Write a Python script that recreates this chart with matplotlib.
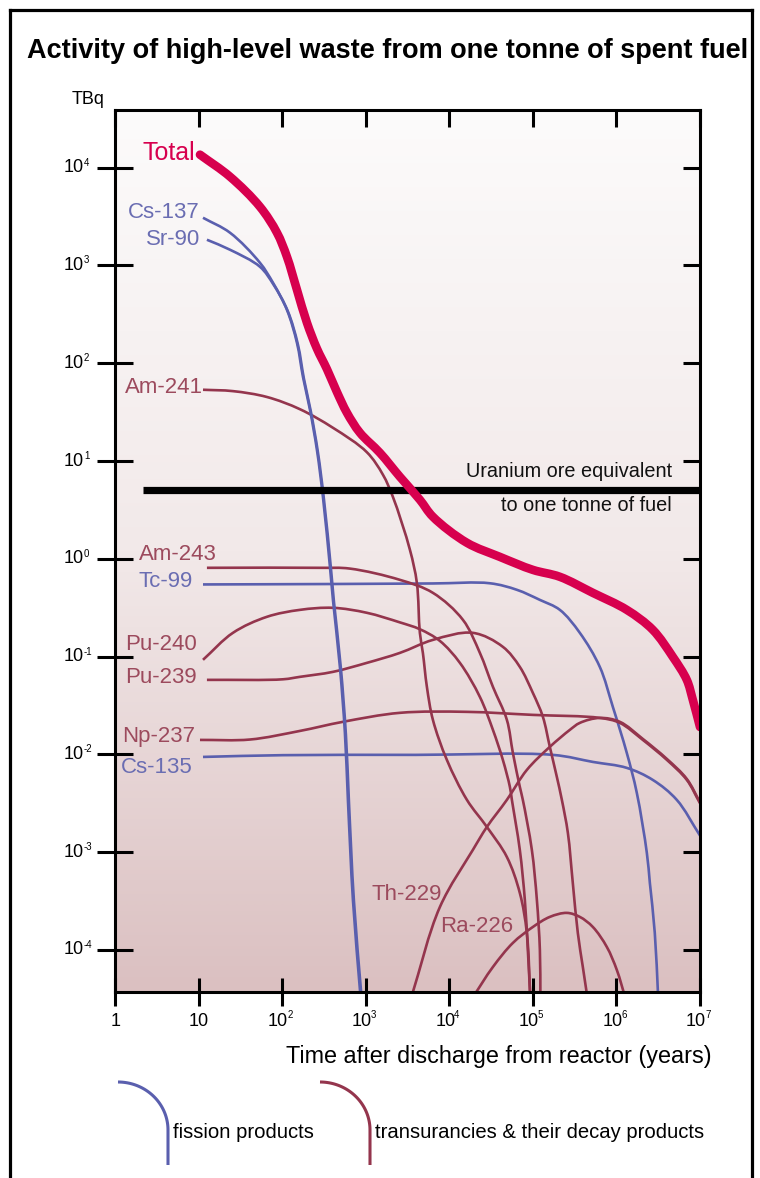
import numpy as np
import matplotlib
matplotlib.use("Agg")
import matplotlib.pyplot as plt
from matplotlib.colors import LinearSegmentedColormap
from matplotlib.path import Path
from matplotlib.patches import PathPatch

plt.rcParams['font.family'] = ['Liberation Sans', 'DejaVu Sans']

# ---------------- data (log10 of years, log10 of TBq) ----------------
total_lt = [1.017, 1.376, 1.734, 1.938, 2.057, 2.177, 2.297, 2.416, 2.536, 2.656, 2.775, 2.931,
            3.170, 3.409, 3.648, 3.804, 4.211, 4.605, 5.0, 5.323, 5.718, 6.124, 6.435, 6.675,
            6.842, 6.914, 7.0]
total_la = [4.133, 3.908, 3.601, 3.335, 3.090, 2.752, 2.414, 2.150, 1.940, 1.705, 1.494, 1.289,
            1.084, 0.839, 0.604, 0.430, 0.164, 0.020, -0.113, -0.184, -0.348, -0.522, -0.726,
            -1.003, -1.238, -1.442, -1.72]

cs137_lt = [1.053, 1.376, 1.734, 1.890, 2.057, 2.177, 2.249, 2.333, 2.416, 2.488, 2.572, 2.608,
            2.691, 2.751, 2.787, 2.847, 2.94]
cs137_la = [3.488, 3.335, 3.028, 2.824, 2.547, 2.210, 1.862, 1.524, 1.115, 0.634, -0.082, -0.420,
            -1.105, -1.780, -2.465, -3.488, -4.5]

sr90_lt = [1.100, 1.376, 1.734, 1.900, 2.069, 2.189, 2.261, 2.345, 2.428, 2.500, 2.584, 2.620,
           2.703, 2.763, 2.799, 2.859, 2.952]
sr90_la = [3.263, 3.161, 2.987, 2.800, 2.530, 2.190, 1.840, 1.500, 1.090, 0.610, -0.100, -0.440,
           -1.120, -1.800, -2.480, -3.500, -4.5]

am241_lt = [1.053, 1.411, 1.818, 2.213, 2.608, 3.014, 3.206, 3.325, 3.529, 3.612, 3.648, 3.684,
            3.732, 3.804, 3.971, 4.211, 4.450, 4.689, 4.844, 4.928, 4.97]
am241_la = [1.729, 1.715, 1.655, 1.530, 1.340, 1.090, 0.860, 0.634, 0.092, -0.246, -0.757, -0.962,
            -1.309, -1.647, -2.056, -2.465, -2.742, -3.049, -3.417, -3.826, -4.5]

am243_lt = [1.100, 2.452, 2.811, 3.409, 3.804, 4.163, 4.366, 4.522, 4.689, 4.761, 4.844, 4.880,
            4.988, 5.048, 5.084, 5.09]
am243_la = [-0.092, -0.092, -0.100, -0.215, -0.348, -0.624, -0.962, -1.309, -1.647, -1.985,
            -2.332, -2.465, -2.977, -3.488, -4.0, -4.5]

tc99_lt = [1.053, 2.500, 3.800, 4.486, 4.809, 5.084, 5.323, 5.562, 5.801, 5.957, 6.124, 6.244,
           6.364, 6.400, 6.459, 6.50]
tc99_la = [-0.262, -0.258, -0.252, -0.250, -0.317, -0.420, -0.522, -0.757, -1.105, -1.514,
           -1.985, -2.394, -3.008, -3.315, -3.826, -4.5]

pu240_lt = [1.053, 1.411, 1.818, 2.213, 2.608, 3.014, 3.409, 3.648, 3.888, 4.127, 4.366, 4.522,
            4.641, 4.725, 4.749, 4.844, 4.904, 4.940, 4.97]
pu240_la = [-1.033, -0.757, -0.593, -0.522, -0.501, -0.552, -0.650, -0.720, -0.840, -1.064,
            -1.412, -1.749, -2.056, -2.332, -2.465, -2.977, -3.488, -4.0, -4.5]

pu239_lt = [1.100, 2.010, 2.213, 2.608, 3.014, 3.409, 3.804, 4.282, 4.641, 4.844, 5.0, 5.120,
            5.203, 5.287, 5.347, 5.419, 5.478, 5.538, 5.598, 5.655]
pu239_la = [-1.238, -1.232, -1.207, -1.156, -1.064, -0.962, -0.829, -0.757, -0.900, -1.105,
            -1.371, -1.616, -1.923, -2.230, -2.465, -2.803, -3.315, -3.826, -4.174, -4.5]

np237_lt = [1.017, 1.615, 2.213, 2.727, 3.409, 4.211, 5.0, 5.801, 6.041, 6.316, 6.603, 6.842, 7.0]
np237_la = [-1.852, -1.848, -1.760, -1.667, -1.575, -1.565, -1.596, -1.627, -1.678, -1.852,
            -2.056, -2.261, -2.50]

cs135_lt = [1.053, 2.010, 3.600, 5.239, 5.718, 6.124, 6.435, 6.722, 7.0]
cs135_la = [-2.026, -2.008, -2.005, -2.005, -2.077, -2.138, -2.261, -2.465, -2.83]

th229_lt = [3.54, 3.888, 4.282, 4.450, 4.689, 4.928, 5.203, 5.443, 5.562, 5.801, 6.041, 6.316,
            6.603, 6.842, 7.0]
th229_la = [-4.5, -3.560, -2.977, -2.742, -2.465, -2.159, -1.923, -1.749, -1.678, -1.627, -1.667,
            -1.842, -2.046, -2.251, -2.49]

ra226_lt = [4.27, 4.522, 4.761, 5.0, 5.203, 5.407, 5.562, 5.718, 5.885, 6.005, 6.11]
ra226_la = [-4.5, -4.174, -3.928, -3.765, -3.662, -3.621, -3.662, -3.765, -3.969, -4.205, -4.5]

uranium_ore_level = 5.1          # TBq
uranium_ore_span = [2.16, 1.0e7]  # years

x_tick_exps = [0, 1, 2, 3, 4, 5, 6, 7]
y_tick_exps = [4, 3, 2, 1, 0, -1, -2, -3, -4]

BLUE = '#5a5fae'
MAROON = '#94354d'
CRIMSON = '#d7004e'
BLUE_TXT = '#6a6db2'
MAROON_TXT = '#9c4a5d'

# ---------------- figure ----------------
W, H = 760, 1178
fig = plt.figure(figsize=(W / 100, H / 100), dpi=100)
fig.patch.set_facecolor('white')

ax = fig.add_axes([115 / W, (H - 992) / H, 585 / W, 882 / H])
ax.set_xscale('log')
ax.set_yscale('log')
ax.set_xlim(1, 1e7)
ax.set_ylim(10 ** -4.43, 10 ** 4.59)

# background gradient
cmap = LinearSegmentedColormap.from_list('bg', ['#dbc0c1', '#f2e9e9', '#fcfbfb'])
grad = np.linspace(0, 1, 256).reshape(-1, 1)
ax.imshow(grad, extent=[0, 1, 0, 1], transform=ax.transAxes, aspect='auto',
          cmap=cmap, origin='lower', zorder=0, interpolation='bilinear')

SX, SY = 83.6, 97.75   # relative on-screen size of one decade, for curve parametrisation


def smooth_path(lt, la):
    """Centripetal Catmull-Rom through the read points, as cubic Bezier segments."""
    p = np.column_stack([np.array(lt) * SX, np.array(la) * SY])
    ext = np.vstack([2 * p[0] - p[1], p, 2 * p[-1] - p[-2]])
    verts = [p[0]]
    codes = [Path.MOVETO]
    for i in range(1, len(ext) - 2):
        p0, p1, p2, p3 = ext[i - 1], ext[i], ext[i + 1], ext[i + 2]
        d01 = max(np.linalg.norm(p1 - p0) ** 0.5, 1e-6)
        d12 = max(np.linalg.norm(p2 - p1) ** 0.5, 1e-6)
        d23 = max(np.linalg.norm(p3 - p2) ** 0.5, 1e-6)
        t0, t1 = 0.0, d01
        t2, t3 = t1 + d12, t1 + d12 + d23
        m1 = (p1 - p0) / (t1 - t0) - (p2 - p0) / (t2 - t0) + (p2 - p1) / (t2 - t1)
        m2 = (p2 - p1) / (t2 - t1) - (p3 - p1) / (t3 - t1) + (p3 - p2) / (t3 - t2)
        m1 *= (t2 - t1)
        m2 *= (t2 - t1)
        verts += [p1 + m1 / 3, p2 - m2 / 3, p2]
        codes += [Path.CURVE4] * 3
    v = np.array(verts)
    v = 10 ** np.column_stack([v[:, 0] / SX, v[:, 1] / SY])
    return Path(v, codes)


def draw(lt, la, color, lw, z=3, cap='butt'):
    patch = PathPatch(smooth_path(lt, la), facecolor='none', edgecolor=color, lw=lw,
                      capstyle=cap, joinstyle='round', zorder=z)
    ax.add_patch(patch)


thin = 1.9
draw(tc99_lt, tc99_la, BLUE, thin)
draw(cs135_lt, cs135_la, BLUE, thin)
for lt, la in [(am241_lt, am241_la), (am243_lt, am243_la), (pu240_lt, pu240_la),
               (pu239_lt, pu239_la), (np237_lt, np237_la), (th229_lt, th229_la),
               (ra226_lt, ra226_la)]:
    draw(lt, la, MAROON, thin)
draw(sr90_lt, sr90_la, BLUE, thin)
draw(cs137_lt, cs137_la, BLUE, thin)
ax.plot(uranium_ore_span, [uranium_ore_level] * 2, color='black', lw=5.2,
        solid_capstyle='butt', zorder=4)
draw(total_lt, total_la, CRIMSON, 6.2, z=5, cap='round')

# curve labels (right edge, vertical centre) in log units
labels = [
    ('Total', 0.957, 4.153, CRIMSON, 18),
    ('Cs-137', 1.017, 3.540, BLUE_TXT, 16),
    ('Sr-90', 1.017, 3.263, BLUE_TXT, 16),
    ('Am-241', 1.053, 1.749, MAROON_TXT, 16),
    ('Am-243', 1.220, 0.041, MAROON_TXT, 16),
    ('Tc-99', 0.933, -0.235, BLUE_TXT, 16),
    ('Pu-240', 0.981, -0.880, MAROON_TXT, 16),
    ('Pu-239', 0.981, -1.217, MAROON_TXT, 16),
    ('Np-237', 0.957, -1.821, MAROON_TXT, 16),
    ('Cs-135', 0.933, -2.138, BLUE_TXT, 16),
    ('Th-229', 3.911, -3.437, MAROON_TXT, 16),
    ('Ra-226', 4.761, -3.765, MAROON_TXT, 16),
]
for txt, lx, ly, c, fs in labels:
    ax.text(10 ** lx, 10 ** ly, txt, color=c, fontsize=fs, ha='right', va='center',
            zorder=6)

ax.text(10 ** 6.663, 10 ** 0.890, 'Uranium ore equivalent', fontsize=14.3, ha='right',
        va='center', color='#111111', zorder=6)
ax.text(10 ** 6.663, 10 ** 0.542, 'to one tonne of fuel', fontsize=14.3, ha='right',
        va='center', color='#111111', zorder=6)

# spines and ticks
for s in ax.spines.values():
    s.set_linewidth(2.2)
    s.set_zorder(7)
ax.minorticks_off()
ax.set_xticks([10.0 ** e for e in x_tick_exps])
ax.set_yticks([10.0 ** e for e in y_tick_exps])
ax.tick_params(axis='y', which='major', left=True, right=True, direction='inout',
               length=26, width=2.2, labelleft=False)
ax.tick_params(axis='x', which='major', bottom=True, top=True, direction='in', length=13,
               width=2.2, labelbottom=False)
for t in ax.yaxis.get_major_ticks():
    t.tick2line.set_marker(matplotlib.lines.TICKLEFT)
    t.tick2line.set_markersize(12.5)
for t in ax.xaxis.get_major_ticks():
    t.tick1line.set_marker('|')
    t.tick1line.set_markersize(20)
    t.tick2line.set_marker(matplotlib.lines.TICKDOWN)
    t.tick2line.set_markersize(12.5)

# manual tick labels ("10" with small raised exponent)
for e in y_tick_exps:
    ax.annotate('10', xy=(0, 10.0 ** e), xycoords=('axes fraction', 'data'),
                xytext=(-31, 0), textcoords='offset pixels', ha='right', va='center',
                fontsize=13)
    ax.annotate(str(e), xy=(0, 10.0 ** e), xycoords=('axes fraction', 'data'),
                xytext=(-31, 5), textcoords='offset pixels', ha='left', va='center',
                fontsize=7)
for e in x_tick_exps:
    if e == 0:
        ax.annotate('1', xy=(1, 0), xycoords=('data', 'axes fraction'), xytext=(1, -29),
                    textcoords='offset pixels', ha='center', va='center', fontsize=13)
    elif e == 1:
        ax.annotate('10', xy=(10, 0), xycoords=('data', 'axes fraction'), xytext=(0, -29),
                    textcoords='offset pixels', ha='center', va='center', fontsize=13)
    else:
        ax.annotate('10', xy=(10.0 ** e, 0), xycoords=('data', 'axes fraction'),
                    xytext=(6, -29), textcoords='offset pixels', ha='right', va='center',
                    fontsize=13)
        ax.annotate(str(e), xy=(10.0 ** e, 0), xycoords=('data', 'axes fraction'),
                    xytext=(5, -23), textcoords='offset pixels', ha='left', va='center',
                    fontsize=7)

# ---------------- figure-level decorations ----------------
ov = fig.add_axes([0, 0, 1, 1], zorder=-1)
ov.set_xlim(0, W)
ov.set_ylim(H, 0)
ov.axis('off')
ov.patch.set_alpha(0)
ov.plot([10, 10], [H + 5, 10], color='black', lw=2.3)
ov.plot([10, 752], [10, 10], color='black', lw=2.3)
ov.plot([752, 752], [10, H + 5], color='black', lw=2.3)

fig.text(388 / W, 1 - 51 / H, 'Activity of high-level waste from one tonne of spent fuel',
         ha='center', va='center', fontsize=19.5, fontweight='bold')
fig.text(88 / W, 1 - 100 / H, 'TBq', ha='center', va='center', fontsize=13)
fig.text(712 / W, 1 - 1057 / H, 'Time after discharge from reactor (years)', ha='right',
         va='center', fontsize=16.8)

# legend arcs
t = np.linspace(0, np.pi / 2, 60)
for x0, c, txt in [(118, BLUE, 'fission products'),
                   (320, MAROON, 'transurancies & their decay products')]:
    xs = np.concatenate([x0 + 50 * np.sin(t), [x0 + 50]])
    ys = np.concatenate([1130 - 48 * np.cos(t), [1165]])
    ov.plot(xs, ys, color=c, lw=2.2, solid_capstyle='butt')
    ov.text(x0 + 55, 1133, txt, ha='left', va='center', fontsize=14.6)

fig.savefig('out.png', dpi=100, facecolor='white')
